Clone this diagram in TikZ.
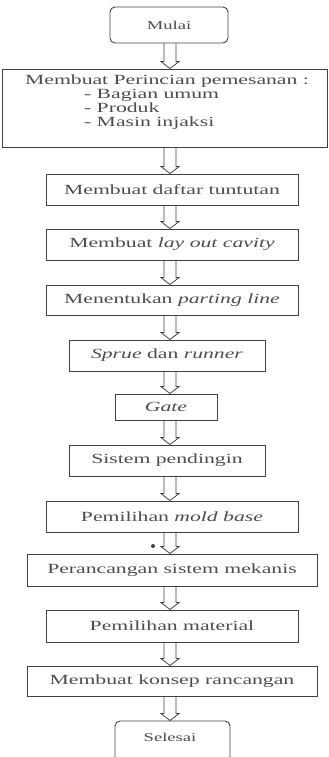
\documentclass[tikz,border=0pt]{standalone}
\usepackage{fontspec}
\setmainfont[FakeStretch=1.55]{Liberation Serif}
\usetikzlibrary{calc}
\definecolor{garis}{rgb}{0.25,0.25,0.25}
\definecolor{huruf}{rgb}{0.3,0.3,0.3}
\tikzset{
  kotak/.style={draw=garis,line width=0.9pt,inner sep=0pt,text=huruf,font=\fontsize{14}{14}\selectfont},
  ujung/.style={kotak,rounded corners=5pt,font=\fontsize{12}{12}\selectfont},
  teks/.style={text=huruf,inner sep=0pt,font=\fontsize{14}{14}\selectfont},
  panah/.style={draw=garis,line width=0.8pt,line join=miter}
}
% panah blok berongga dari kotak #1 ke kotak #2
\newcommand{\blockarrow}[2]{%
\draw[panah] ($(#1.south -| axis)+(-6,0)$) -- ($(#2.north -| axis)+(-6,7)$) -- ++(-3,0) -- (#2.north -| axis) -- ++(9,7) -- ++(-3,0) -- ($(#1.south -| axis)+(6,0)$);}

\begin{document}
\begin{tikzpicture}[x=1pt,y=1pt,line cap=round]
\useasboundingbox (0,0) rectangle (329,757);
\clip (0,0) rectangle (329,757);
\coordinate (axis) at (170,0);

\node[ujung,minimum width=118pt,minimum height=36pt] (mulai) at (169,732) {Mulai};
\node[kotak,minimum width=325pt,minimum height=78pt] (pesan) at (164.5,649) {};
\node[teks,align=left] (pesantxt) at (167,655) {Membuat Perincian pemesanan :\\
\hspace*{59pt}- Bagian umum\\
\hspace*{59pt}- Produk\\
\hspace*{59pt}- Masin injaksi};
\node[kotak,minimum width=252pt,minimum height=31pt] (daftar) at (172,567.5) {Membuat daftar tuntutan};
\node[kotak,minimum width=252pt,minimum height=31pt] (layout) at (172,512.5) {Membuat \textit{lay out cavity}};
\node[kotak,minimum width=252pt,minimum height=30pt] (parting) at (172,457) {Menentukan \textit{parting line}};
\node[kotak,minimum width=196pt,minimum height=31pt] (sprue) at (167,401.5) {\textit{Sprue} dan \textit{runner}};
\node[kotak,minimum width=102pt,minimum height=26pt] (gate) at (166,350) {\textit{Gate}};
\node[kotak,minimum width=196pt,minimum height=31pt] (dingin) at (167,296.5) {Sistem pendingin};
\node[kotak,minimum width=252pt,minimum height=31pt] (moldbase) at (172,240.5) {Pemilihan \textit{mold base}};
\node[kotak,minimum width=290pt,minimum height=32pt] (mekanis) at (172,187) {Perancangan sistem mekanis};
\node[kotak,minimum width=252pt,minimum height=32pt] (material) at (172,131) {Pemilihan material};
\node[kotak,minimum width=290pt,minimum height=30pt] (konsep) at (172,76) {Membuat konsep rancangan};
\node[ujung,minimum width=115pt,minimum height=44pt,text depth=0pt] (selesai) at (172.5,14) {};
\node[teks,font=\fontsize{12}{12}\selectfont] (selesaitxt) at (170,20) {Selesai};

\foreach \a/\b in {mulai/pesan,pesan/daftar,daftar/layout,layout/parting,parting/sprue,sprue/gate,gate/dingin,dingin/moldbase,moldbase/mekanis,mekanis/material,material/konsep,konsep/selesai}
  \blockarrow{\a}{\b};

\fill[garis] (153,211) circle (2pt);
\end{tikzpicture}
\end{document}
